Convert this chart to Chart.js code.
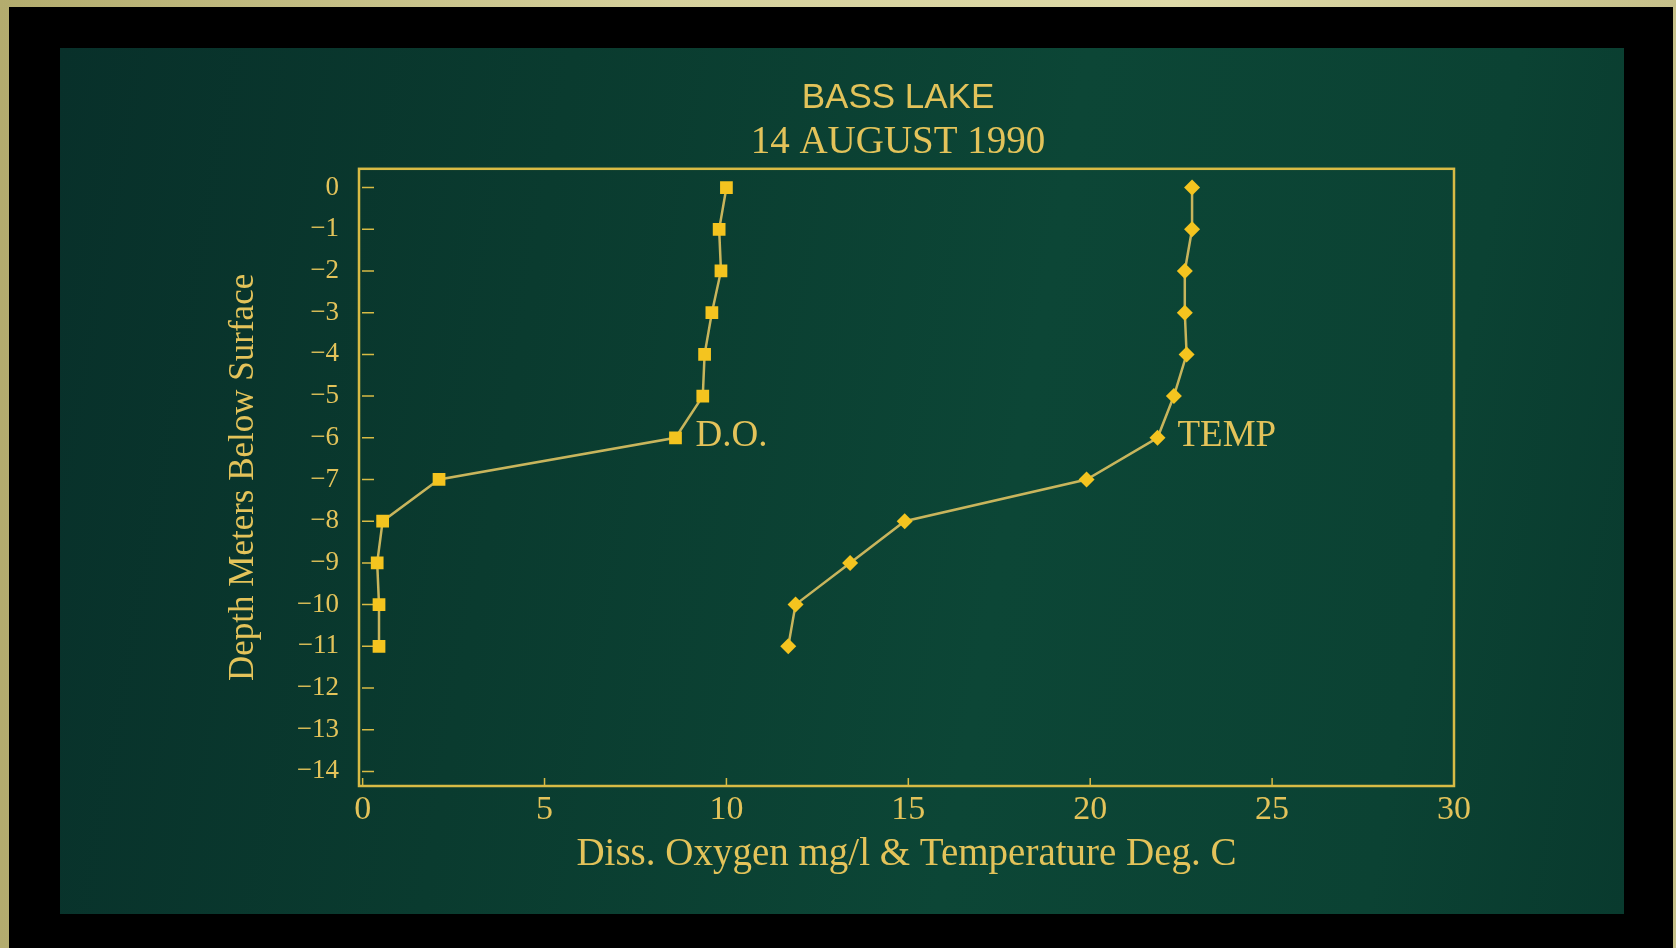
<!DOCTYPE html>
<html>
<head>
<meta charset="utf-8">
<title>Bass Lake profile</title>
<script src="https://cdn.jsdelivr.net/npm/chart.js@4.4.1/dist/chart.umd.min.js"></script>
<style>
  html, body { margin: 0; padding: 0; width: 1676px; height: 948px; overflow: hidden; }
  body { position: relative; background: linear-gradient(90deg, #b3ac6e 0%, #d6d19d 40%, #dedaa8 70%, #c6c08a 100%); }
  #frame { position: absolute; left: 9px; top: 7px; width: 1664px; height: 941px; background: #000; }
  #slide { position: absolute; left: 60px; top: 48px; width: 1564px; height: 866px;
           background: linear-gradient(100deg, #08302a 0%, #0a3b2f 30%, #0c4636 60%, #0b4233 85%, #093a2e 100%); }
  #wrap { position: absolute; left: 218px; top: 0; width: 1360px; height: 948px; }
</style>
</head>
<body>
<div id="frame"></div>
<div id="slide"></div>
<div id="wrap"><canvas id="chart"></canvas></div>
<script>
// depth profile
const depths = [0, -1, -2, -3, -4, -5, -6, -7, -8, -9, -10, -11];
const doValues = [10.0, 9.8, 9.85, 9.6, 9.4, 9.35, 8.6, 2.1, 0.55, 0.4, 0.45, 0.45];
const tempValues = [22.8, 22.8, 22.6, 22.6, 22.65, 22.3, 21.85, 19.9, 14.9, 13.4, 11.9, 11.7];
const seriesNames = ['D.O.', 'TEMP'];
const xTicks = [0, 5, 10, 15, 20, 25, 30];
const yTicks = [0, -1, -2, -3, -4, -5, -6, -7, -8, -9, -10, -11, -12, -13, -14];
const labelAt = 6; // point the series name sits next to

const TEXT = '#e3c35a';
const FRAME = '#d8bb45';
const LINE = '#c8b55c';
const MARK = '#f4c41f';

const toPoints = (vals) => vals.map((v, i) => ({ x: v, y: depths[i] }));

// plot frame + inward tick marks
const frameTicks = {
    id: 'frameTicks',
    beforeDatasetsDraw(chart) {
        const { ctx, chartArea: a, scales: { x, y } } = chart;
        ctx.save();
        ctx.strokeStyle = FRAME;
        ctx.lineWidth = 2.5;
        ctx.strokeRect(a.left, a.top, a.right - a.left, a.bottom - a.top);
        ctx.lineWidth = 1.5;
        ctx.beginPath();
        y.ticks.forEach(t => {
            const py = y.getPixelForValue(t.value);
            ctx.moveTo(a.left + 3, py);
            ctx.lineTo(a.left + 15, py);
        });
        x.ticks.forEach(t => {
            const px = x.getPixelForValue(t.value);
            ctx.moveTo(px, a.bottom);
            ctx.lineTo(px, a.bottom - 8);
        });
        ctx.stroke();
        ctx.restore();
    }
};

// "D.O." / "TEMP" next to the curve
const seriesLabels = {
    id: 'seriesLabels',
    afterDatasetsDraw(chart) {
        const { ctx } = chart;
        ctx.save();
        ctx.fillStyle = TEXT;
        ctx.font = '37px "Liberation Serif"';
        ctx.textBaseline = 'middle';
        ctx.textAlign = 'left';
        chart.data.datasets.forEach((ds, i) => {
            const pt = chart.getDatasetMeta(i).data[labelAt];
            if (pt) ctx.fillText(seriesNames[i], pt.x + 20, pt.y - 2);
        });
        ctx.restore();
    }
};

const minus = (v) => v < 0 ? '\u2212' + Math.abs(v) : String(v);

new Chart(document.getElementById('chart'), {
    type: 'scatter',
    data: {
        datasets: [
            {
                label: seriesNames[0],
                data: toPoints(doValues),
                showLine: true,
                borderColor: LINE,
                borderWidth: 2.5,
                pointStyle: 'rect',
                pointRadius: 9,
                pointBackgroundColor: MARK,
                pointBorderColor: MARK,
                pointBorderWidth: 0
            },
            {
                label: seriesNames[1],
                data: toPoints(tempValues),
                showLine: true,
                borderColor: LINE,
                borderWidth: 2.5,
                pointStyle: 'rectRot',
                pointRadius: 8,
                pointBackgroundColor: MARK,
                pointBorderColor: MARK,
                pointBorderWidth: 0
            }
        ]
    },
    options: {
        responsive: true,
        maintainAspectRatio: false,
        animation: false,
        layout: { padding: { left: 0, right: 0, top: 0, bottom: 70 } },
        plugins: {
            legend: { display: false },
            tooltip: { enabled: false },
            title: {
                display: true,
                text: 'BASS LAKE',
                color: TEXT,
                font: { family: '"Liberation Sans"', size: 35, weight: 'normal' },
                padding: { top: 77, bottom: 0 }
            },
            subtitle: {
                display: true,
                text: '14 AUGUST 1990',
                color: TEXT,
                font: { family: '"Liberation Serif"', size: 39, weight: 'normal' },
                padding: { top: 0, bottom: 3 }
            }
        },
        scales: {
            x: {
                type: 'linear',
                min: -0.1,
                max: 30,
                grid: { display: false, drawTicks: false },
                border: { display: false },
                afterBuildTicks: (s) => { s.ticks = xTicks.map(v => ({ value: v })); },
                afterFit: (s) => { s.height = 92; },
                ticks: {
                    color: TEXT,
                    padding: 4,
                    maxRotation: 0,
                    font: { family: '"Liberation Serif"', size: 34 },
                    callback: (v) => minus(v)
                },
                title: {
                    display: true,
                    text: 'Diss. Oxygen mg/l & Temperature Deg. C',
                    color: TEXT,
                    font: { family: '"Liberation Serif"', size: 39 },
                    padding: { top: 0, bottom: 0 }
                }
            },
            y: {
                type: 'linear',
                min: -14.35,
                max: 0.45,
                grid: { display: false, drawTicks: false },
                border: { display: false },
                afterBuildTicks: (s) => { s.ticks = yTicks.map(v => ({ value: v })); },
                afterFit: (s) => { s.width = 141; },
                ticks: {
                    color: TEXT,
                    padding: 20,
                    font: { family: '"Liberation Serif"', size: 27 },
                    callback: (v) => minus(v)
                },
                title: {
                    display: true,
                    text: 'Depth Meters Below Surface',
                    color: TEXT,
                    font: { family: '"Liberation Serif"', size: 35 },
                    padding: { top: 5, bottom: 0 }
                }
            },
            // empty right-hand strip so the titles centre like the slide
            yPad: {
                type: 'linear',
                position: 'right',
                display: true,
                grid: { display: false, drawTicks: false },
                border: { display: false },
                ticks: { display: false },
                afterFit: (s) => { s.width = 124; }
            }
        }
    },
    plugins: [frameTicks, seriesLabels]
});
</script>
</body>
</html>
